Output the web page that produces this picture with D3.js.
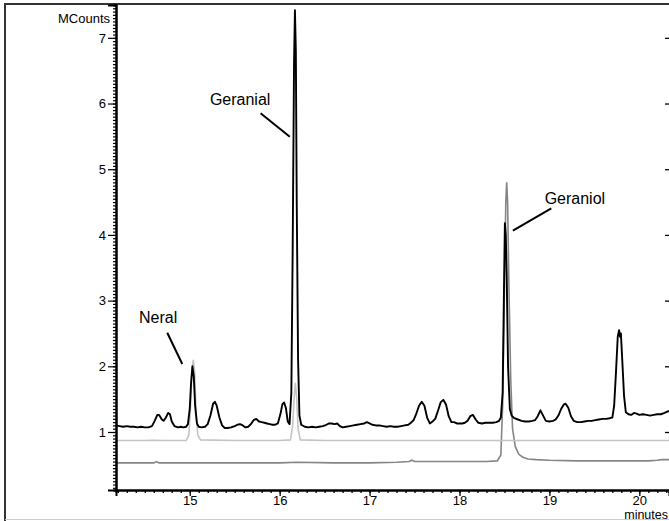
<!DOCTYPE html>
<html><head><meta charset="utf-8">
<script src="https://cdn.jsdelivr.net/npm/d3@7/dist/d3.min.js"></script>
<style>body{margin:0;background:#fff}svg{display:block;font-family:"Liberation Sans",Arial,sans-serif}</style>
</head><body><svg id="c" width="669" height="521"></svg>
<script>
// ---- data ----
const xTicks = [15, 16, 17, 18, 19, 20];
const yTicks = [1, 2, 3, 4, 5, 6, 7];
const blackTrace = [
[14.18,1.10],[14.22,1.09],[14.26,1.08],[14.30,1.09],[14.34,1.08],[14.38,1.08],[14.42,1.07],[14.46,1.08],[14.50,1.07],[14.54,1.07],
[14.58,1.09],[14.61,1.17],[14.64,1.26],[14.66,1.26],[14.69,1.19],[14.71,1.17],[14.735,1.22],[14.76,1.29],[14.78,1.27],[14.80,1.16],
[14.83,1.09],[14.87,1.07],[14.90,1.08],[14.93,1.07],[14.96,1.08],[14.98,1.12],[15.00,1.35],[15.015,1.75],[15.03,2.00],[15.045,1.85],
[15.06,1.40],[15.08,1.13],[15.10,1.08],[15.13,1.07],[15.17,1.08],[15.20,1.12],[15.23,1.25],[15.26,1.43],[15.28,1.46],[15.30,1.40],
[15.33,1.22],[15.36,1.10],[15.39,1.06],[15.42,1.06],[15.46,1.07],[15.50,1.09],[15.53,1.11],[15.56,1.12],[15.59,1.10],[15.62,1.07],
[15.65,1.08],[15.68,1.12],[15.71,1.18],[15.74,1.20],[15.77,1.16],[15.80,1.15],[15.83,1.14],[15.86,1.13],[15.89,1.12],[15.92,1.11],
[15.95,1.11],[15.98,1.13],[16.01,1.28],[16.03,1.42],[16.05,1.45],[16.07,1.36],[16.09,1.16],[16.11,1.12],[16.13,1.6],[16.145,3.8],
[16.16,6.6],[16.17,7.42],[16.18,6.8],[16.19,4.5],[16.205,2.1],[16.22,1.25],[16.24,1.11],[16.28,1.08],[16.32,1.07],[16.36,1.08],
[16.40,1.07],[16.44,1.08],[16.48,1.09],[16.52,1.11],[16.55,1.13],[16.58,1.13],[16.61,1.12],[16.64,1.13],[16.67,1.09],[16.70,1.07],
[16.74,1.08],[16.78,1.09],[16.82,1.10],[16.86,1.11],[16.90,1.12],[16.94,1.13],[16.97,1.15],[17.00,1.13],[17.03,1.11],[17.07,1.10],
[17.11,1.10],[17.15,1.09],[17.19,1.08],[17.23,1.09],[17.27,1.08],[17.31,1.08],[17.35,1.09],[17.39,1.10],[17.43,1.11],[17.46,1.14],
[17.49,1.18],[17.52,1.28],[17.55,1.40],[17.58,1.46],[17.61,1.40],[17.64,1.22],[17.67,1.13],[17.70,1.16],[17.73,1.20],[17.76,1.32],
[17.79,1.45],[17.82,1.49],[17.85,1.42],[17.88,1.24],[17.91,1.15],[17.94,1.15],[17.97,1.13],[18.00,1.13],[18.03,1.13],[18.06,1.14],
[18.09,1.17],[18.12,1.24],[18.15,1.26],[18.18,1.19],[18.21,1.14],[18.25,1.13],[18.29,1.14],[18.33,1.14],[18.37,1.14],[18.41,1.15],
[18.44,1.17],[18.46,1.22],[18.48,1.6],[18.495,3.2],[18.505,4.18],[18.515,4.0],[18.525,3.4],[18.54,2.0],[18.56,1.35],[18.58,1.25],
[18.61,1.21],[18.65,1.19],[18.69,1.17],[18.73,1.16],[18.77,1.16],[18.81,1.17],[18.84,1.18],[18.87,1.24],[18.90,1.33],[18.93,1.25],
[18.96,1.17],[19.00,1.16],[19.04,1.17],[19.07,1.19],[19.10,1.25],[19.13,1.35],[19.16,1.42],[19.18,1.43],[19.21,1.37],[19.24,1.24],
[19.27,1.17],[19.31,1.15],[19.35,1.15],[19.39,1.16],[19.43,1.17],[19.47,1.17],[19.51,1.18],[19.55,1.19],[19.59,1.20],[19.63,1.20],
[19.67,1.21],[19.70,1.22],[19.72,1.40],[19.74,1.9],[19.76,2.45],[19.775,2.55],[19.785,2.45],[19.795,2.5],[19.81,2.1],[19.83,1.55],
[19.85,1.30],[19.88,1.27],[19.91,1.26],[19.94,1.29],[19.97,1.28],[20.00,1.26],[20.04,1.27],[20.08,1.26],[20.12,1.25],[20.16,1.26],
[20.20,1.27],[20.24,1.27],[20.28,1.29],[20.33,1.32]
];
const lightTrace = [
[14.18,0.87],[14.5,0.87],[14.6,0.875],[14.7,0.87],[14.96,0.87],[14.99,0.95],[15.01,1.4],[15.025,1.95],[15.04,2.10],[15.055,1.9],
[15.07,1.3],[15.09,0.95],[15.12,0.88],[15.5,0.87],[16.0,0.87],[16.12,0.88],[16.145,1.1],[16.16,1.5],[16.175,1.75],[16.19,1.5],
[16.205,1.05],[16.23,0.88],[16.5,0.87],[17.0,0.87],[18.0,0.87],[19.0,0.87],[20.0,0.87],[20.33,0.87]
];
const midTrace = [
[14.18,0.53],[14.4,0.53],[14.6,0.53],[14.63,0.55],[14.66,0.53],[15.0,0.53],[15.5,0.53],[16.0,0.53],[16.2,0.54],[16.6,0.53],
[17.0,0.53],[17.3,0.54],[17.44,0.55],[17.47,0.57],[17.50,0.55],[17.7,0.55],[18.0,0.55],[18.3,0.55],[18.42,0.56],[18.46,0.65],
[18.48,1.4],[18.50,3.2],[18.515,4.5],[18.525,4.8],[18.535,4.5],[18.55,3.2],[18.57,1.8],[18.59,1.05],[18.62,0.78],[18.66,0.66],
[18.70,0.62],[18.76,0.59],[18.85,0.58],[19.0,0.57],[19.3,0.56],[19.6,0.56],[19.9,0.56],[20.1,0.56],[20.2,0.57],[20.25,0.58],[20.33,0.58]
];
const labelNames = ["Neral", "Geranial", "Geraniol"];
const labelPos = [[14.436, 2.659], [15.224, 5.978], [18.947, 4.471]];
const pointerFrom = [[14.75, 2.511], [15.788, 5.851], [19.021, 4.405]];
const pointerTo = [[14.917, 2.035], [16.113, 5.495], [18.594, 4.064]];

// ---- chart ----
const svg = d3.select("#c");
const L = 116, R = 669, T = 5, B = 490;
const x = d3.scaleLinear().domain([14.18, 20.33]).range([L, R]);
const y = d3.scaleLinear().domain([0.117, 7.5]).range([B, T]);

// frame
svg.append("line").attr("x1",5).attr("x2",5).attr("y1",3).attr("y2",521).attr("stroke","#333").attr("stroke-width",2);
svg.append("line").attr("x1",4).attr("x2",669).attr("y1",4).attr("y2",4).attr("stroke","#333").attr("stroke-width",2);
svg.append("line").attr("x1",5).attr("x2",669).attr("y1",519.5).attr("y2",519.5).attr("stroke","#ccc").attr("stroke-width",1);

const line = d3.line().x(d => x(d[0])).y(d => y(d[1]));
svg.append("path").datum(midTrace).attr("d", line).attr("fill","none").attr("stroke","#858585").attr("stroke-width",1.6);
svg.append("path").datum(lightTrace).attr("d", line).attr("fill","none").attr("stroke","#c4c4c4").attr("stroke-width",1.6);
svg.append("path").datum(blackTrace).attr("d", line).attr("fill","none").attr("stroke","#000").attr("stroke-width",1.9).attr("stroke-linejoin","round");

// axes
const xMinor = d3.range(142, 204).map(i => i / 10);
const gx = svg.append("g").attr("transform", `translate(0,${B})`);
gx.call(d3.axisBottom(x).tickValues(xMinor).tickSize(3).tickFormat(""));
gx.append("g").call(d3.axisBottom(x).tickValues(xTicks).tickSize(6).tickFormat(d3.format("d")));
gx.selectAll(".domain").attr("stroke","#000").attr("stroke-width",2);
gx.selectAll("line").attr("stroke","#000").attr("stroke-width",1.3);
gx.selectAll("text").attr("font-size",13).attr("fill","#000").attr("dy","0.71em").attr("y",6);

const yMinor = d3.range(3, 150).map(i => i / 20).filter(v => v <= 7.5);
const gy = svg.append("g").attr("transform", `translate(${L},0)`);
gy.call(d3.axisLeft(y).tickValues(yMinor).tickSize(3).tickFormat(""));
gy.append("g").call(d3.axisLeft(y).tickValues(yTicks).tickSize(8).tickFormat(d3.format("d")));
gy.selectAll(".domain").attr("stroke","#000").attr("stroke-width",2);
gy.selectAll("line").attr("stroke","#000").attr("stroke-width",1.2);
gy.selectAll("text").attr("font-size",13).attr("fill","#000").attr("x",-10);

const gr = svg.append("g").attr("transform", `translate(${R},0)`);
gr.call(d3.axisLeft(y).tickValues(yTicks).tickSize(4).tickFormat(""));
gr.selectAll(".domain").remove();
gr.selectAll("line").attr("stroke","#000").attr("stroke-width",1.3);

svg.append("text").attr("x", 110).attr("y", 23).attr("text-anchor","end").attr("font-size",13).text("MCounts");
svg.append("text").attr("x", 668).attr("y", 519).attr("text-anchor","end").attr("font-size",12.5).text("minutes");

// annotations
labelNames.forEach((n, i) => {
  svg.append("text").attr("x", x(labelPos[i][0])).attr("y", y(labelPos[i][1])).attr("font-size",16).attr("fill","#000").text(n);
  svg.append("line").attr("x1", x(pointerFrom[i][0])).attr("y1", y(pointerFrom[i][1]))
    .attr("x2", x(pointerTo[i][0])).attr("y2", y(pointerTo[i][1])).attr("stroke","#000").attr("stroke-width",2);
});
</script></body></html>
